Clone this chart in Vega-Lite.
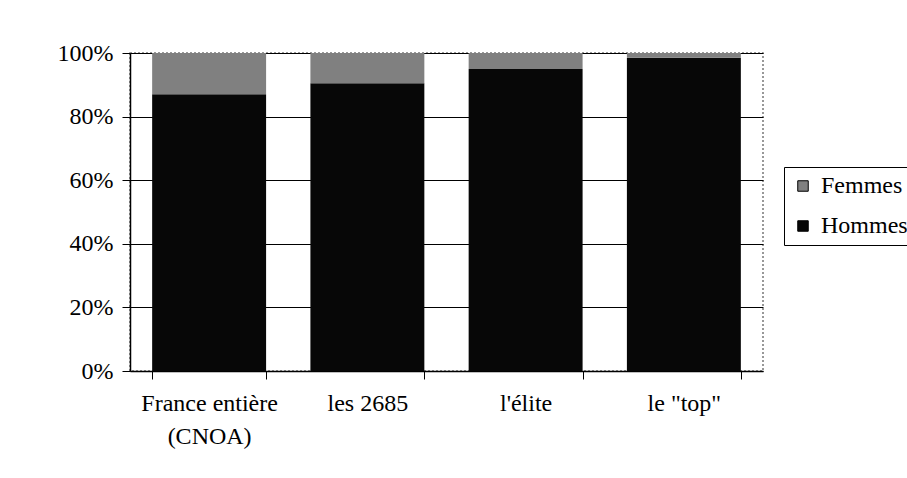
{
  "$schema": "https://vega.github.io/schema/vega-lite/v6.json",
  "autosize": "none",
  "width": 633,
  "height": 318,
  "padding": {"left": 130, "top": 53, "right": 144, "bottom": 107},
  "background": "white",
  "data": {
    "values": [
      {"groupe": "France entière (CNOA)", "sexe": "Hommes", "part": 87},
      {"groupe": "France entière (CNOA)", "sexe": "Femmes", "part": 13},
      {"groupe": "les 2685", "sexe": "Hommes", "part": 90.5},
      {"groupe": "les 2685", "sexe": "Femmes", "part": 9.5},
      {"groupe": "l'élite", "sexe": "Hommes", "part": 95},
      {"groupe": "l'élite", "sexe": "Femmes", "part": 5},
      {"groupe": "le \"top\"", "sexe": "Hommes", "part": 98.5},
      {"groupe": "le \"top\"", "sexe": "Femmes", "part": 1.5}
    ]
  },
  "mark": {"type": "bar"},
  "encoding": {
    "x": {
      "field": "groupe",
      "type": "nominal",
      "sort": null,
      "scale": {"paddingInner": 0.28, "paddingOuter": 0.14},
      "axis": {
        "title": null,
        "labelAngle": 0,
        "labelPadding": 12,
        "labelLineHeight": 33,
        "labelBaseline": "top",
        "labelExpr": "datum.value == 'France entière (CNOA)' ? ['France entière', '(CNOA)'] : datum.value",
        "tickBand": "extent",
        "tickSize": 8,
        "tickColor": "black",
        "domainColor": "black",
        "domainWidth": 1.5
      }
    },
    "y": {
      "field": "part",
      "type": "quantitative",
      "stack": "normalize",
      "scale": {"domain": [0, 1]},
      "axis": {
        "title": null,
        "format": ".0%",
        "values": [0, 0.2, 0.4, 0.6, 0.8, 1],
        "labelPadding": 9,
        "tickSize": 8,
        "tickColor": "black",
        "domainColor": "black",
        "domainWidth": 1.5,
        "grid": true,
        "gridColor": "black",
        "gridWidth": 1.2
      }
    },
    "color": {
      "field": "sexe",
      "type": "nominal",
      "scale": {"domain": ["Femmes", "Hommes"], "range": ["#808080", "#070707"]},
      "legend": {
        "title": null,
        "orient": "none",
        "legendX": 654,
        "legendY": 114,
        "symbolType": "square",
        "symbolSize": 110,
        "symbolStrokeColor": "black",
        "symbolStrokeWidth": 1,
        "labelOffset": 6,
        "rowPadding": 16,
        "padding": 7,
        "strokeColor": "black",
        "fillColor": "white"
      }
    },
    "order": {"field": "sexe", "sort": "descending"}
  },
  "config": {
    "font": "Liberation Serif",
    "axis": {"labelFont": "Liberation Serif", "labelFontSize": 24, "labelColor": "black"},
    "legend": {"labelFont": "Liberation Serif", "labelFontSize": 24, "labelColor": "black"},
    "view": {"stroke": "#777", "strokeDash": [2, 2], "strokeWidth": 1.5}
  }
}
